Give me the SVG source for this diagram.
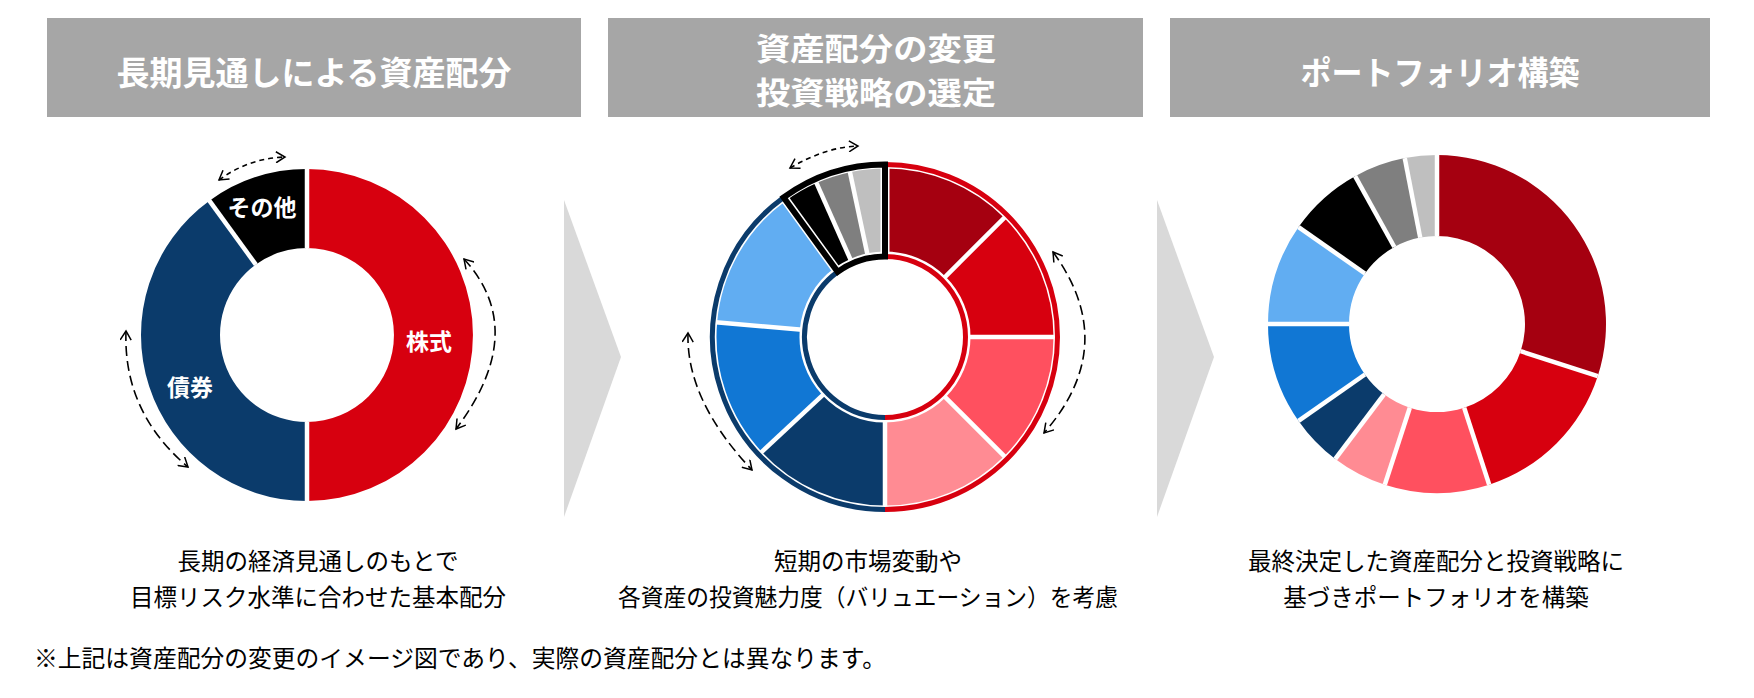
<svg xmlns="http://www.w3.org/2000/svg" width="1754" height="698" viewBox="0 0 1754 698">
<style>
.hdr{fill:#a6a6a6}
.ht{font-family:"Noto Sans CJK JP","Noto Sans",sans-serif;font-size:33px;font-weight:bold;fill:#fff;text-anchor:middle}
.ht2{font-family:"Noto Sans CJK JP","Noto Sans",sans-serif;font-size:31px;font-weight:bold;fill:#fff;text-anchor:middle}
.lbl{font-family:"Noto Sans CJK JP","Noto Sans",sans-serif;font-size:23px;font-weight:bold;fill:#fff;text-anchor:middle}
.body{font-family:"Noto Sans CJK JP","Noto Sans",sans-serif;font-size:23.5px;fill:#000;text-anchor:middle}
.note{font-family:"Noto Sans CJK JP","Noto Sans",sans-serif;font-size:23.5px;fill:#000}
.chev{fill:#d9d9d9}
.sep{stroke:#fff;stroke-width:4.5;fill:none}
.sepw{stroke:#fff;stroke-width:9;fill:none}
.dash{fill:none;stroke:#000;stroke-width:1.6;stroke-dasharray:10 5;marker-start:url(#ah);marker-end:url(#ah)}
.dashs{fill:none;stroke:#000;stroke-width:1.6;stroke-dasharray:5 4;marker-start:url(#ah);marker-end:url(#ah)}
.c-dr{fill:#a50010}.c-r{fill:#d7000f}.c-co{fill:#ff505f}.c-pk{fill:#ff8b93}
.c-nv{fill:#0b3b6b}.c-bl{fill:#1177d4}.c-lb{fill:#61adf2}
.c-bk{fill:#000}.c-gy{fill:#7f7f7f}.c-lg{fill:#bfbfbf}
</style>
<defs>
<marker id="ah" viewBox="0 0 12 12" refX="10" refY="6" markerWidth="12" markerHeight="12" markerUnits="userSpaceOnUse" orient="auto-start-reverse">
<path d="M1,0.5 L10,6 L1,11.5" fill="none" stroke="#000" stroke-width="1.5" stroke-dasharray="none"/>
</marker>
</defs>
<rect width="1754" height="698" fill="#fff"/>

<!-- chevrons -->
<g id="chevron1"><polygon class="chev" points="564,200 621,357 564,517"/></g>
<g id="chevron2"><polygon class="chev" points="1157,200 1214,357 1157,517"/></g>

<!-- headers -->
<g id="header1"><rect class="hdr" x="47" y="18" width="534" height="99"/><text class="ht" x="314" y="84.5">長期見通しによる資産配分</text></g>
<g id="header2"><rect class="hdr" x="608" y="18" width="535" height="99"/><text class="ht2" x="876" y="60" textLength="240" lengthAdjust="spacingAndGlyphs">資産配分の変更</text><text class="ht2" x="876" y="104" textLength="240" lengthAdjust="spacingAndGlyphs">投資戦略の選定</text></g>
<g id="header3"><rect class="hdr" x="1170" y="18" width="540" height="99"/><text class="ht" x="1440" y="84.5" textLength="279" lengthAdjust="spacingAndGlyphs">ポートフォリオ構築</text></g>

<!-- donut 1 -->
<g id="donut1">
<path class="c-r" d="M307,169 A166,166 0 0 1 307,501 L307,422 A87,87 0 0 0 307,248 Z"/>
<path class="c-nv" d="M307,501 A166,166 0 0 1 209.43,200.7 L255.86,264.62 A87,87 0 0 0 307,422 Z"/>
<path class="c-bk" d="M209.43,200.7 A166,166 0 0 1 307,169 L307,248 A87,87 0 0 0 255.86,264.62 Z"/>
<line class="sep" x1="307" y1="248" x2="307" y2="167"/>
<line class="sep" x1="307" y1="422" x2="307" y2="503"/>
<line class="sep" x1="255.86" y1="264.62" x2="208.25" y2="199.08"/>
<text class="lbl" x="262" y="216">その他</text>
<text class="lbl" x="429" y="350">株式</text>
<text class="lbl" x="190" y="396">債券</text>
</g>

<!-- donut 2 -->
<g id="donut2">
<path d="M885,164.5 A172.5,172.5 0 0 1 885,509.5 L885,417.5 A80.5,80.5 0 0 0 885,256.5 Z" fill="#fff"/>
<path d="M885,509.5 A172.5,172.5 0 0 1 783.61,197.44 L837.68,271.87 A80.5,80.5 0 0 0 885,417.5 Z" fill="#fff"/>
<path class="c-dr" d="M885,168.5 A168.5,168.5 0 0 1 1004.15,217.85 L945.46,276.54 A85.5,85.5 0 0 0 885,251.5 Z"/>
<path class="c-r" d="M1004.15,217.85 A168.5,168.5 0 0 1 1053.5,337 L970.5,337 A85.5,85.5 0 0 0 945.46,276.54 Z"/>
<path class="c-co" d="M1053.5,337 A168.5,168.5 0 0 1 1004.15,456.15 L945.46,397.46 A85.5,85.5 0 0 0 970.5,337 Z"/>
<path class="c-pk" d="M1004.15,456.15 A168.5,168.5 0 0 1 885,505.5 L885,422.5 A85.5,85.5 0 0 0 945.46,397.46 Z"/>
<path class="c-nv" d="M885,505.5 A168.5,168.5 0 0 1 761.77,451.92 L822.47,395.31 A85.5,85.5 0 0 0 885,422.5 Z"/>
<path class="c-bl" d="M761.77,451.92 A168.5,168.5 0 0 1 717.14,322.31 L799.83,329.55 A85.5,85.5 0 0 0 822.47,395.31 Z"/>
<path class="c-lb" d="M717.14,322.31 A168.5,168.5 0 0 1 785.96,200.68 L834.74,267.83 A85.5,85.5 0 0 0 799.83,329.55 Z"/>
<path class="c-bk" d="M785.96,200.68 A168.5,168.5 0 0 1 816.46,183.07 L850.22,258.89 A85.5,85.5 0 0 0 834.74,267.83 Z"/>
<path class="c-gy" d="M816.46,183.07 A168.5,168.5 0 0 1 849.97,172.18 L867.22,253.37 A85.5,85.5 0 0 0 850.22,258.89 Z"/>
<path class="c-lg" d="M849.97,172.18 A168.5,168.5 0 0 1 885,168.5 L885,251.5 A85.5,85.5 0 0 0 867.22,253.37 Z"/>
<line class="sep" x1="943.69" y1="278.31" x2="1005.21" y2="216.79"/>
<line class="sep" x1="968" y1="337" x2="1055" y2="337"/>
<line class="sep" x1="943.69" y1="395.69" x2="1005.21" y2="457.21"/>
<line class="sep" x1="824.3" y1="393.61" x2="760.67" y2="452.94"/>
<line class="sep" x1="802.32" y1="329.77" x2="715.65" y2="322.18"/>
<line class="sep" x1="851.24" y1="261.18" x2="815.85" y2="181.7"/>
<line class="sep" x1="867.74" y1="255.81" x2="849.65" y2="170.71"/>
<line class="sep" x1="885" y1="420" x2="885" y2="507"/>
<line class="sepw" x1="885" y1="254" x2="885" y2="167"/>
<line class="sepw" x1="836.21" y1="269.85" x2="785.08" y2="199.47"/>
<g fill="none">
<path d="M885,509.5 A172.5,172.5 0 0 1 783.61,197.44" stroke="#0b3b6b" stroke-width="5"/>
<path d="M837.68,271.87 A80.5,80.5 0 0 0 885,417.5" stroke="#0b3b6b" stroke-width="5"/>
<path d="M885,164.5 A172.5,172.5 0 0 1 885,509.5" stroke="#d7000f" stroke-width="5"/>
<path d="M885,256.5 A80.5,80.5 0 0 1 885,417.5" stroke="#d7000f" stroke-width="5"/>
<path d="M783.61,197.44 A172.5,172.5 0 0 1 885,164.5 L885,256.5 A80.5,80.5 0 0 0 837.68,271.87 Z" stroke="#000" stroke-width="6"/>
</g>
</g>

<!-- donut 3 -->
<g id="donut3">
<path class="c-dr" d="M1437,155 A169,169 0 0 1 1597.73,376.22 L1520.69,351.19 A88,88 0 0 0 1437,236 Z"/>
<path class="c-r" d="M1597.73,376.22 A169,169 0 0 1 1489.22,484.73 L1464.19,407.69 A88,88 0 0 0 1520.69,351.19 Z"/>
<path class="c-co" d="M1489.22,484.73 A169,169 0 0 1 1384.78,484.73 L1409.81,407.69 A88,88 0 0 0 1464.19,407.69 Z"/>
<path class="c-pk" d="M1384.78,484.73 A169,169 0 0 1 1335.29,458.97 L1384.04,394.28 A88,88 0 0 0 1409.81,407.69 Z"/>
<path class="c-nv" d="M1335.29,458.97 A169,169 0 0 1 1298.56,420.93 L1364.91,374.47 A88,88 0 0 0 1384.04,394.28 Z"/>
<path class="c-bl" d="M1298.56,420.93 A169,169 0 0 1 1268,324 L1349,324 A88,88 0 0 0 1364.91,374.47 Z"/>
<path class="c-lb" d="M1268,324 A169,169 0 0 1 1298.56,227.07 L1364.91,273.53 A88,88 0 0 0 1349,324 Z"/>
<path class="c-bk" d="M1298.56,227.07 A169,169 0 0 1 1355.07,176.19 L1394.34,247.03 A88,88 0 0 0 1364.91,273.53 Z"/>
<path class="c-gy" d="M1355.07,176.19 A169,169 0 0 1 1404.75,158.1 L1420.21,237.62 A88,88 0 0 0 1394.34,247.03 Z"/>
<path class="c-lg" d="M1404.75,158.1 A169,169 0 0 1 1437,155 L1437,236 A88,88 0 0 0 1420.21,237.62 Z"/>
<line class="sep" x1="1437" y1="236" x2="1437" y2="155"/>
<line class="sep" x1="1520.69" y1="351.19" x2="1597.73" y2="376.22"/>
<line class="sep" x1="1464.19" y1="407.69" x2="1489.22" y2="484.73"/>
<line class="sep" x1="1409.81" y1="407.69" x2="1384.78" y2="484.73"/>
<line class="sep" x1="1384.04" y1="394.28" x2="1335.29" y2="458.97"/>
<line class="sep" x1="1364.91" y1="374.47" x2="1298.56" y2="420.93"/>
<line class="sep" x1="1349" y1="324" x2="1268" y2="324"/>
<line class="sep" x1="1364.91" y1="273.53" x2="1298.56" y2="227.07"/>
<line class="sep" x1="1394.34" y1="247.03" x2="1355.07" y2="176.19"/>
<line class="sep" x1="1420.21" y1="237.62" x2="1404.75" y2="158.1"/>
</g>

<!-- connectors: dashed double-headed arcs -->
<g id="connectors">
<path class="dashs" d="M219,180 Q249,158 285,157"/>
<path class="dash" d="M464,259 Q530,331 456,429"/>
<path class="dash" d="M126,331 Q123,412 188,467"/>
<path class="dashs" d="M790,168 Q826,147 858,146"/>
<path class="dash" d="M1053,252 Q1121,345 1044,433"/>
<path class="dash" d="M688,333 Q686,400 752,470"/>
</g>

<!-- captions -->
<g id="caption1"><text class="body" x="318" y="570">長期の経済見通しのもとで</text><text class="body" x="318" y="606">目標リスク水準に合わせた基本配分</text></g>
<g id="caption2"><text class="body" x="868" y="570">短期の市場変動や</text><text class="body" x="868" y="606" textLength="500" lengthAdjust="spacingAndGlyphs">各資産の投資魅力度（バリュエーション）を考慮</text></g>
<g id="caption3"><text class="body" x="1436" y="570">最終決定した資産配分と投資戦略に</text><text class="body" x="1436" y="606">基づきポートフォリオを構築</text></g>
<g id="footnote"><text class="note" x="34" y="667" textLength="852" lengthAdjust="spacingAndGlyphs">※上記は資産配分の変更のイメージ図であり、実際の資産配分とは異なります。</text></g>
</svg>
